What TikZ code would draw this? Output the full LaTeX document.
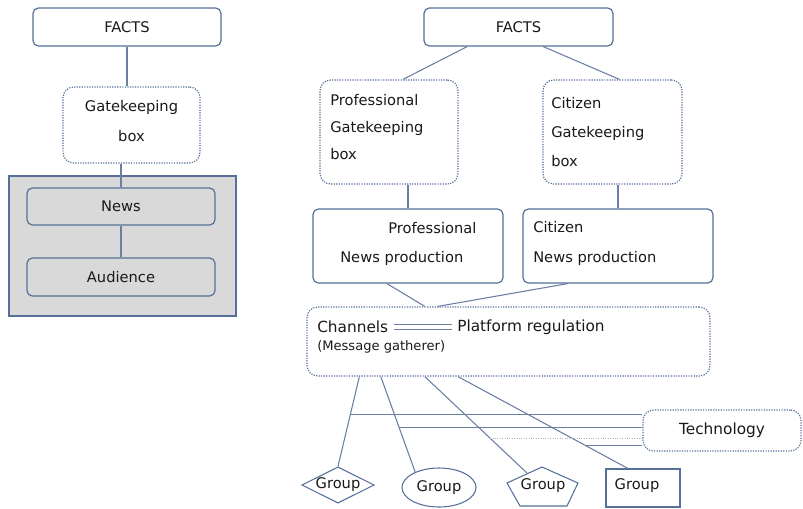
\documentclass[tikz,border=0pt]{standalone}
\usepackage{fontspec}
\setmainfont{DejaVu Sans}
\usepackage{xcolor}
\usepackage{tikz}
\usetikzlibrary{shapes,arrows,positioning,calc}
\definecolor{edgeblue}{HTML}{56709A}
\definecolor{linkblue}{HTML}{6A7FA2}
\definecolor{boxgray}{HTML}{D9D9D9}
\tikzset{
  solidbox/.style={draw=edgeblue, line width=0.9pt, rounded corners=4pt, fill=white, inner sep=0pt},
  dotbox/.style={draw=edgeblue, line width=0.9pt, densely dotted, rounded corners=8pt, inner sep=0pt},
  groupbox/.style={draw=edgeblue, line width=0.8pt, inner sep=0pt},
  link/.style={draw=linkblue, line width=0.8pt},
  txt/.style={inner sep=0pt, text=black!90, font=\fontsize{11}{13}\selectfont},
}

\begin{document}
\begin{tikzpicture}[x=0.75pt, y=-0.75pt]
    \useasboundingbox (0,0) rectangle (803,508);

    % Traditional gatekeeping
    \node[solidbox, txt, minimum width=141pt, minimum height=28.5pt] (lfacts) at (127,27) {FACTS};
    \node[dotbox, minimum width=102.75pt, minimum height=57pt] (lgate) at (131.5,125) {};
    \node[txt, align=center, font=\fontsize{11}{22.5}\selectfont] (lgatetxt) at (131.5,121) {Gatekeeping\\box};
    \node[draw=edgeblue, line width=0.8pt, fill=boxgray, minimum width=170.25pt, minimum height=105pt] (lframe) at (122.5,246) {};
    \node[solidbox, txt, fill=boxgray, minimum width=141pt, minimum height=27.75pt] (lnews) at (121,206.5) {News};
    \node[solidbox, txt, fill=boxgray, minimum width=141pt, minimum height=28.5pt] (laud) at (121,277) {Audience};
    \draw[link] (lfacts) -- (lfacts |- lgate.north);
    \draw[link] (lnews.north) -- (lnews.north |- lgate.south);
    \draw[link] (lnews) -- (laud);

    % Two gatekeeping boxes
    \node[solidbox, txt, minimum width=141.75pt, minimum height=28.5pt] (rfacts) at (518.5,27) {FACTS};
    \node[dotbox, minimum width=103.5pt, minimum height=78pt] (pgate) at (389,132) {};
    \node[txt, align=left, anchor=west, font=\fontsize{11}{20}\selectfont] (pgatetxt) at (330,127) {Professional\\Gatekeeping\\box};
    \node[dotbox, minimum width=104.25pt, minimum height=78pt] (cgate) at (612.5,132) {};
    \node[txt, align=left, anchor=west, font=\fontsize{11}{22}\selectfont] (cgatetxt) at (551,132) {Citizen\\Gatekeeping\\box};
    \draw[link] ($(rfacts.south west)!0.23!(rfacts.south east)$) -- ($(pgate.north west)!0.6!(pgate.north east)$);
    \draw[link] ($(rfacts.south west)!0.63!(rfacts.south east)$) -- ($(cgate.north west)!0.55!(cgate.north east)$);

    % News production
    \node[solidbox, minimum width=142.5pt, minimum height=55.5pt] (pnews) at (408,246) {};
    \node[txt, anchor=west] (pnewsa) at (388,228) {Professional};
    \node[txt, anchor=west] (pnewsb) at (340,258) {News production};
    \node[solidbox, minimum width=142.5pt, minimum height=55.5pt] (cnews) at (618,246) {};
    \node[txt, align=left, anchor=west, font=\fontsize{11}{22.5}\selectfont] (cnewstxt) at (533,243) {Citizen\\News production};
    \draw[link] (pnews.north) -- (pnews.north |- pgate.south);
    \draw[link] (cnews.north) -- (cnews.north |- cgate.south);

    % Channels
    \node[dotbox, minimum width=302.25pt, minimum height=51.75pt] (chan) at (508.5,341.5) {};
    \node[txt, anchor=west, font=\fontsize{11.5}{13}\selectfont] (chanlbl) at (317,327) {Channels};
    \node[txt, anchor=west, font=\fontsize{11.5}{13}\selectfont] (platlbl) at (457,327) {Platform regulation};
    \node[txt, anchor=west, font=\fontsize{9.8}{11}\selectfont] (msglbl) at (317,347) {(Message gatherer)};
    \draw[link, line width=0.7pt, double=white, double distance=3.5pt, shorten <=4pt, shorten >=4pt] (chanlbl) -- (platlbl);
    \draw[link] ($(pnews.south west)!0.39!(pnews.south east)$) -- ($(chan.north west)!0.293!(chan.north east)$);
    \draw[link] ($(cnews.south west)!0.237!(cnews.south east)$) -- ($(chan.north west)!0.325!(chan.north east)$);

    % Technology
    \node[dotbox, txt, minimum width=118.5pt, minimum height=30.75pt, font=\fontsize{11.5}{13}\selectfont] (tech) at (722,430.5) {Technology};

    % Groups
    \node[groupbox, txt, diamond, aspect=2] (g1) at (338,485) {Group};
    \node[groupbox, txt, ellipse, minimum width=55.5pt, minimum height=29.25pt] (g2) at (439,487.5) {Group};
    \node[txt] (g3) at (543,486) {Group};
    \draw[groupbox] (542,467) -- (578,483) -- (567,506) -- (520,506) -- (507,483) -- cycle;
    \coordinate (g3top) at (527,473);
    \node[groupbox, minimum width=55.5pt, minimum height=28.5pt] (g4) at (643,488) {};
    \node[txt] (g4txt) at (637,486) {Group};

    \draw[link] ($(chan.south west)!0.131!(chan.south east)$) -- (g1.north) coordinate[pos=0.42] (k1);
    \draw[link] ($(chan.south west)!0.184!(chan.south east)$) -- (g2.147) coordinate[pos=0.53] (k2);
    \draw[link] ($(chan.south west)!0.293!(chan.south east)$) -- (g3top) coordinate[pos=0.64] (k3);
    \draw[link] ($(chan.south west)!0.375!(chan.south east)$) -- ($(g4.north west)!0.3!(g4.north east)$) coordinate[pos=0.75] (k4);
    \draw[link] (k1) -- (k1 -| tech.west);
    \draw[link] (k2) -- (k2 -| tech.west);
    \draw[link, densely dotted, draw=linkblue!60] (k3) -- (k3 -| tech.west);
    \draw[link] (k4) -- (k4 -| tech.west);
\end{tikzpicture}
\end{document}
